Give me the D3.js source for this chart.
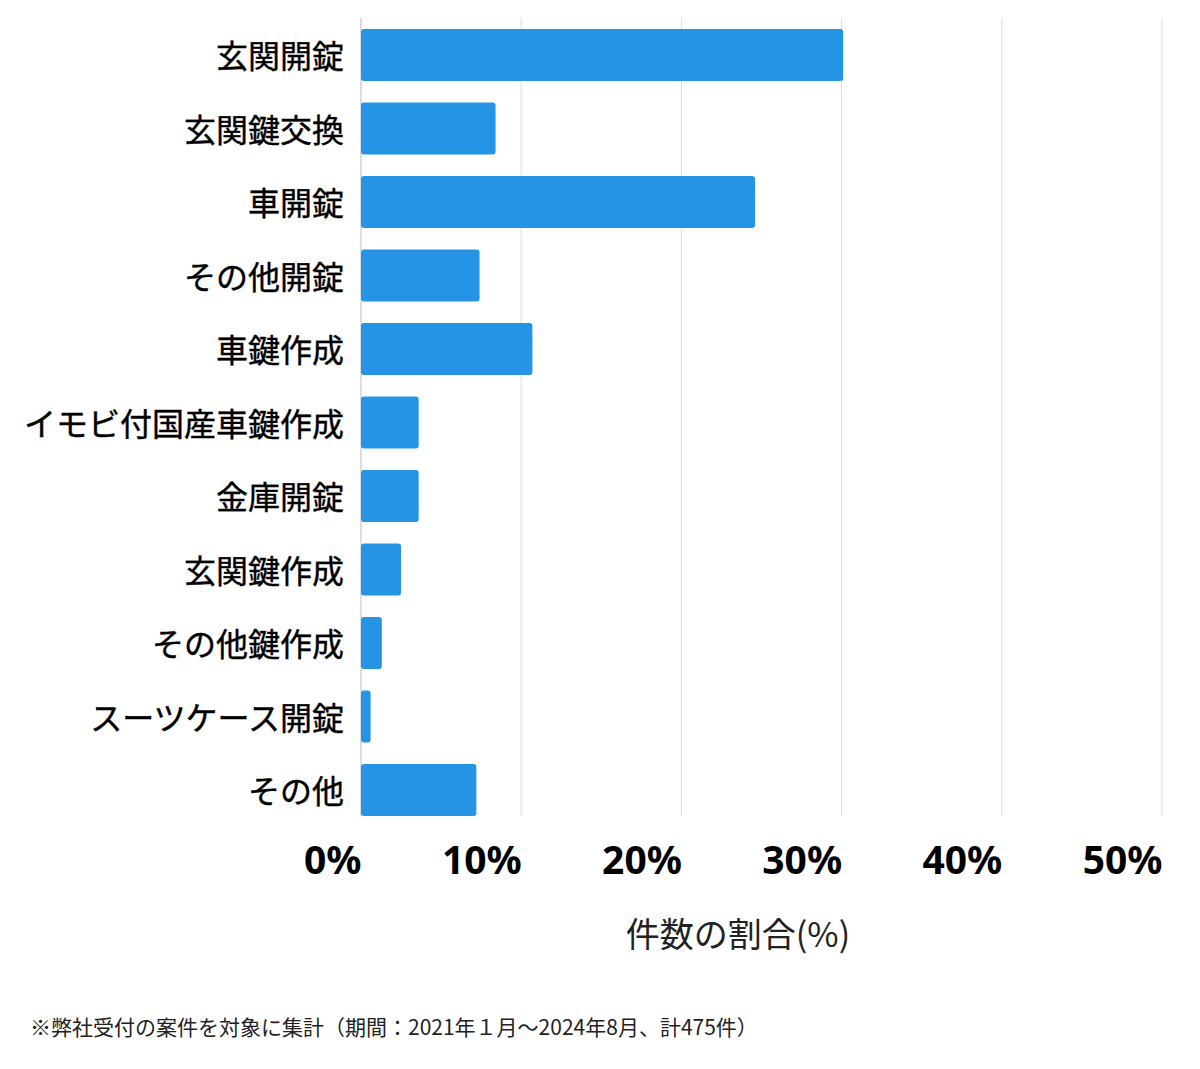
<!DOCTYPE html>
<html>
<head>
<meta charset="utf-8">
<script src="https://cdn.jsdelivr.net/npm/d3@7"></script>
<style>
  body { margin: 0; background: #fff; }
  text { font-family: "Noto Sans CJK JP", "Noto Sans", sans-serif; }
</style>
</head>
<body>
<script>
var categories = ["玄関開錠", "玄関鍵交換", "車開錠", "その他開錠", "車鍵作成", "イモビ付国産車鍵作成",
                  "金庫開錠", "玄関鍵作成", "その他鍵作成", "スーツケース開錠", "その他"];
var percents = [30.1, 8.4, 24.6, 7.4, 10.7, 3.6, 3.6, 2.5, 1.3, 0.6, 7.2];
var tickValues = [0, 10, 20, 30, 40, 50];
var axisTitle = "件数の割合(%)";
var footnote = "※弊社受付の案件を対象に集計（期間：2021年１月～2024年8月、計475件）";

var width = 1200, height = 1069;
var plotLeft = 361, plotRight = 1162, plotTop = 18, plotBottom = 816;

var svg = d3.select("body").append("svg")
  .attr("width", width)
  .attr("height", height);

var x = d3.scaleLinear().domain([0, 50]).range([plotLeft, plotRight]);
var y = d3.scaleBand().domain(categories).range([29, plotBottom]).paddingInner(0.2925).paddingOuter(0);

// gridlines
svg.append("g").selectAll("line")
  .data(tickValues)
  .enter()
  .append("line")
  .attr("x1", function(d) { return x(d); })
  .attr("x2", function(d) { return x(d); })
  .attr("y1", plotTop)
  .attr("y2", plotBottom)
  .attr("stroke", function(d) { return d === 0 ? "#bbb" : "#dcdcdc"; })
  .attr("stroke-width", 1);

// bars
svg.append("g").selectAll("rect")
  .data(percents)
  .enter()
  .append("rect")
  .attr("x", x(0))
  .attr("y", function(d, i) { return y(categories[i]); })
  .attr("width", function(d) { return x(d) - x(0); })
  .attr("height", y.bandwidth())
  .attr("rx", 3)
  .attr("fill", "#2594e4");

// category labels
var yAxis = svg.append("g")
  .attr("transform", "translate(" + (plotLeft - 17) + ",3)")
  .call(d3.axisLeft(y).tickSize(0).tickPadding(0));
yAxis.select(".domain").remove();
yAxis.selectAll("text")
  .attr("font-size", 32)
  .attr("font-weight", 400)
  .attr("fill", "#000")
  .attr("stroke", "#000")
  .attr("stroke-width", 0.4)
  .style("font-family", "'Noto Sans CJK JP', sans-serif");

// x tick labels, right-aligned at gridline
var xAxis = svg.append("g")
  .attr("transform", "translate(0," + (plotBottom + 58) + ")")
  .call(d3.axisBottom(x).tickValues(tickValues).tickSize(0).tickPadding(0)
    .tickFormat(function(d) { return d + "%"; }));
xAxis.select(".domain").remove();
xAxis.selectAll("text")
  .attr("text-anchor", "end")
  .attr("dy", 0)
  .attr("font-size", 39)
  .attr("font-weight", "bold")
  .attr("fill", "#000")
  .style("font-family", "'Noto Sans', sans-serif");

svg.append("text")
  .attr("x", 738)
  .attr("y", 947)
  .attr("text-anchor", "middle")
  .attr("font-size", 34)
  .attr("fill", "#222")
  .text(axisTitle);

svg.append("text")
  .attr("x", 30)
  .attr("y", 1035)
  .attr("font-size", 21)
  .attr("fill", "#222")
  .text(footnote);
</script>
</body>
</html>
